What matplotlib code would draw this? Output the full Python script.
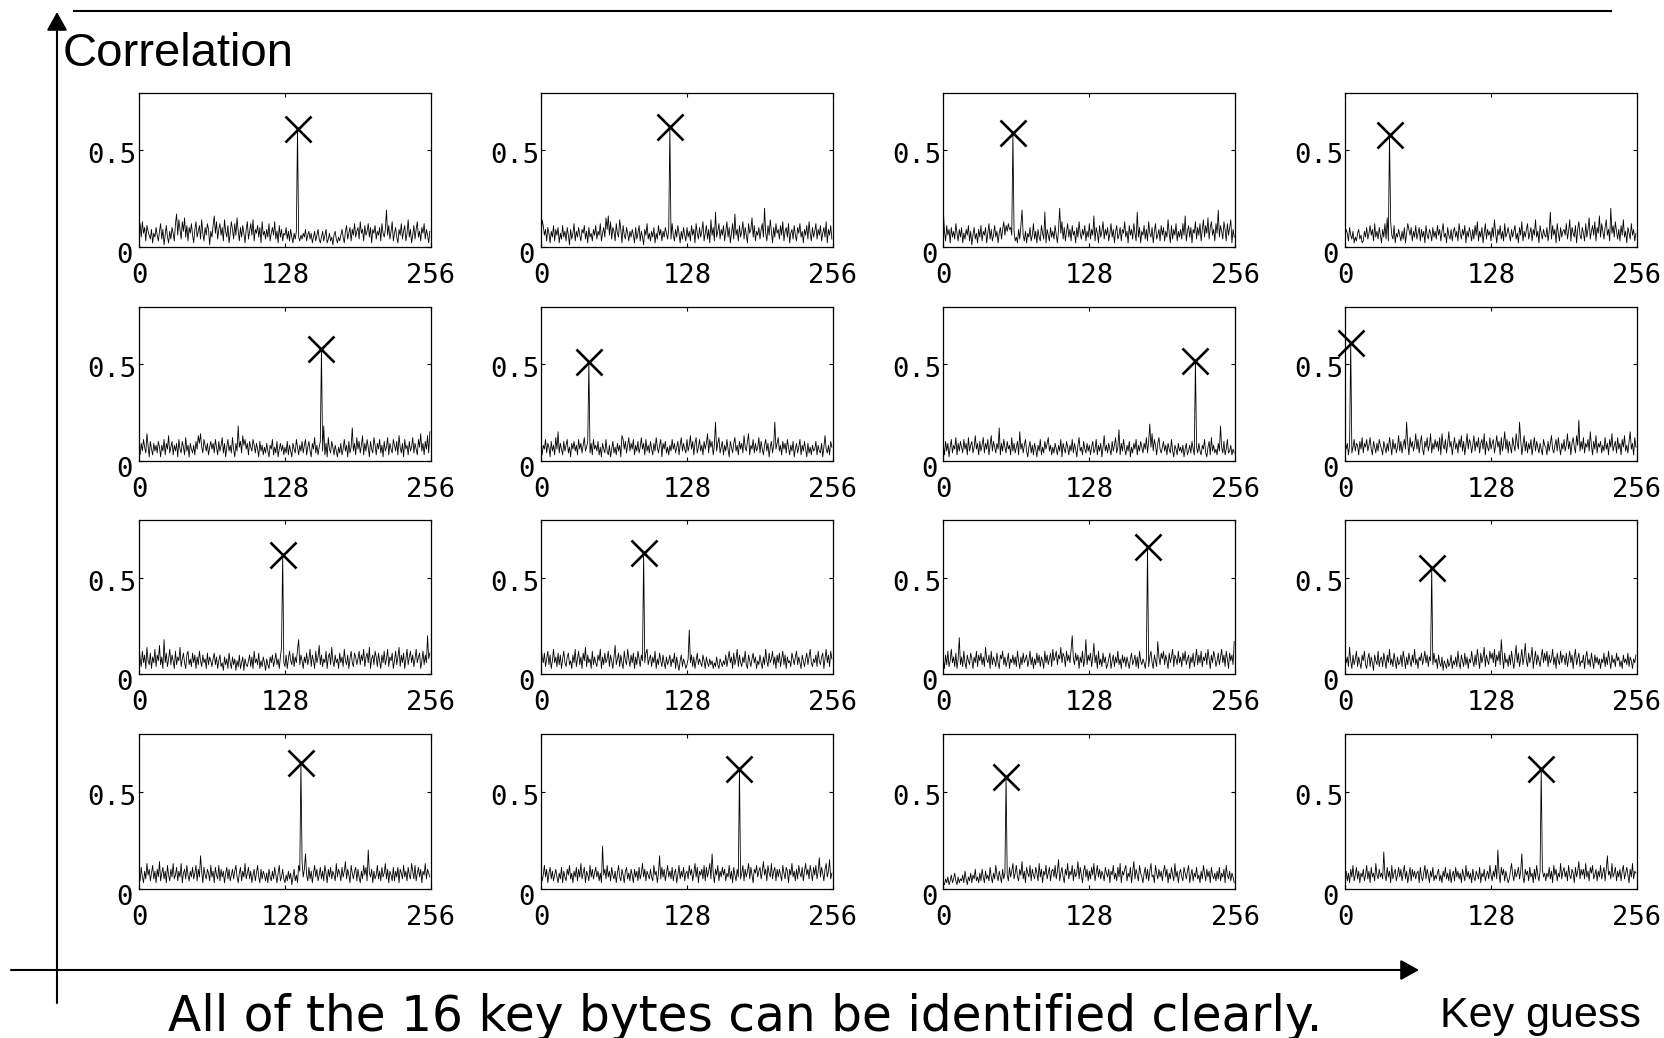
"""
16 key-byte correlation panels (CPA result): correlation vs key guess,
correct key marked with a cross.
"""
import numpy as np
import matplotlib
matplotlib.use("Agg")
import matplotlib.pyplot as plt
from matplotlib.transforms import ScaledTranslation

# correlation x100 for key guesses 0..255, one list per key byte
kb01 = [9, 12, 5, 13, 7, 10, 3, 11, 8, 6, 4, 9, 2, 7, 5, 10,
        6, 3, 8, 12, 4, 9, 1, 6, 11, 5, 2, 8, 4, 10, 7, 3,
        12, 17, 6, 14, 9, 4, 13, 8, 15, 5, 11, 3, 10, 7, 12, 6,
        2, 9, 13, 5, 8, 11, 4, 14, 7, 3, 10, 6, 12, 9, 1, 8,
        5, 11, 16, 7, 13, 4, 9, 12, 6, 10, 3, 14, 8, 5, 11, 2,
        7, 13, 9, 4, 12, 6, 15, 8, 3, 10, 5, 11, 7, 2, 9, 13,
        4, 8, 12, 6, 14, 3, 9, 7, 11, 5, 10, 2, 13, 6, 8, 4,
        9, 5, 12, 3, 7, 10, 6, 13, 4, 8, 2, 11, 5, 9, 3, 7,
        6, 10, 4, 8, 3, 9, 5, 2, 7, 4, 8, 61, 5, 3, 6, 4,
        7, 5, 9, 3, 6, 8, 4, 7, 2, 5, 8, 3, 6, 9, 4, 2,
        5, 8, 3, 6, 9, 2, 4, 7, 3, 5, 1, 6, 8, 4, 2, 5,
        3, 6, 9, 5, 2, 8, 11, 4, 7, 10, 3, 9, 6, 12, 5, 8,
        10, 4, 13, 7, 9, 3, 11, 6, 8, 12, 5, 10, 2, 9, 7, 11,
        4, 8, 6, 10, 3, 12, 7, 5, 9, 19, 6, 11, 4, 8, 13, 3,
        7, 10, 5, 2, 9, 6, 12, 4, 8, 11, 3, 7, 14, 5, 9, 2,
        6, 11, 4, 9, 13, 5, 8, 3, 10, 7, 12, 4, 9, 6, 2, 8]
kb02 = [4, 14, 11, 6, 9, 3, 10, 7, 2, 8, 5, 11, 3, 9, 6, 10,
        2, 7, 4, 11, 5, 8, 3, 10, 6, 1, 9, 4, 7, 12, 3, 8,
        5, 10, 6, 3, 9, 7, 11, 4, 8, 2, 10, 5, 7, 3, 9, 6,
        11, 4, 8, 6, 12, 3, 7, 10, 5, 15, 9, 16, 6, 13, 4, 10,
        8, 3, 12, 7, 5, 14, 9, 2, 11, 6, 4, 10, 7, 3, 8, 5,
        9, 6, 2, 10, 4, 7, 11, 3, 8, 5, 1, 9, 6, 12, 4, 7,
        3, 8, 5, 10, 2, 7, 4, 11, 6, 9, 3, 8, 5, 10, 7, 4,
        9, 62, 4, 12, 6, 3, 9, 5, 11, 7, 2, 8, 4, 10, 6, 3,
        10, 5, 8, 3, 11, 6, 9, 2, 12, 7, 4, 10, 5, 8, 13, 3,
        7, 11, 4, 9, 2, 14, 6, 10, 3, 18, 5, 8, 12, 4, 9, 6,
        11, 3, 8, 13, 5, 10, 2, 7, 12, 4, 17, 6, 9, 3, 11, 5,
        8, 13, 4, 10, 6, 2, 12, 7, 9, 15, 5, 11, 3, 8, 6, 10,
        4, 9, 12, 5, 20, 7, 3, 11, 6, 14, 8, 2, 10, 5, 12, 7,
        9, 4, 11, 6, 13, 3, 8, 10, 5, 12, 2, 7, 9, 4, 11, 6,
        3, 10, 7, 12, 5, 8, 2, 9, 6, 11, 4, 13, 7, 3, 10, 5,
        8, 12, 4, 9, 6, 11, 3, 7, 10, 5, 13, 2, 9, 6, 11, 4]
kb03 = [19, 8, 3, 11, 6, 9, 2, 10, 5, 8, 4, 12, 7, 3, 9, 5,
        10, 2, 7, 4, 9, 6, 11, 3, 8, 1, 6, 10, 4, 7, 2, 9,
        5, 11, 3, 8, 6, 10, 2, 7, 12, 4, 9, 3, 6, 11, 5, 8,
        2, 7, 10, 4, 9, 13, 6, 11, 8, 12, 9, 10, 6, 59, 8, 3,
        5, 2, 9, 4, 11, 19, 6, 3, 8, 2, 7, 5, 10, 3, 6, 12,
        4, 8, 2, 9, 5, 3, 11, 7, 4, 18, 2, 9, 6, 3, 10, 5,
        8, 4, 11, 6, 2, 9, 20, 7, 13, 4, 10, 3, 8, 12, 5, 9,
        3, 11, 6, 8, 2, 10, 5, 13, 7, 4, 9, 6, 11, 3, 8, 5,
        12, 4, 9, 6, 16, 3, 10, 7, 2, 11, 5, 8, 13, 4, 9, 6,
        10, 3, 7, 12, 5, 9, 2, 8, 11, 4, 6, 10, 3, 9, 7, 13,
        5, 8, 2, 11, 6, 9, 4, 12, 7, 3, 18, 5, 10, 2, 8, 6,
        11, 4, 9, 3, 13, 7, 5, 10, 2, 8, 12, 4, 6, 9, 3, 11,
        6, 10, 3, 8, 5, 14, 7, 2, 11, 4, 9, 6, 12, 3, 8, 5,
        9, 4, 12, 6, 16, 3, 8, 11, 5, 10, 2, 9, 7, 13, 4, 10,
        6, 12, 3, 9, 14, 5, 11, 7, 15, 4, 10, 13, 6, 9, 3, 12,
        7, 19, 5, 11, 8, 4, 13, 9, 3, 12, 6, 10, 14, 2, 9, 5]
kb04 = [5, 9, 7, 3, 10, 6, 4, 8, 2, 5, 3, 7, 9, 4, 6, 2,
        3, 8, 5, 10, 4, 7, 11, 6, 9, 3, 12, 5, 8, 4, 10, 6,
        2, 9, 5, 12, 4, 15, 3, 58, 13, 6, 4, 11, 2, 7, 5, 9,
        6, 3, 8, 4, 10, 2, 7, 12, 9, 6, 10, 3, 8, 5, 11, 4,
        7, 10, 3, 9, 5, 8, 2, 11, 6, 4, 9, 7, 3, 10, 5, 8,
        4, 11, 6, 9, 3, 8, 12, 5, 7, 2, 10, 6, 4, 9, 3, 8,
        10, 5, 8, 3, 12, 7, 4, 9, 6, 11, 2, 8, 5, 10, 7, 3,
        9, 4, 11, 6, 13, 3, 8, 5, 10, 2, 7, 12, 4, 9, 6, 8,
        3, 10, 5, 14, 7, 2, 9, 6, 11, 4, 8, 3, 12, 5, 7, 10,
        6, 3, 9, 5, 8, 11, 4, 7, 2, 10, 6, 13, 3, 8, 5, 9,
        12, 4, 7, 10, 3, 9, 6, 14, 5, 8, 2, 11, 7, 4, 9, 6,
        5, 10, 3, 8, 18, 4, 11, 6, 9, 2, 12, 7, 3, 10, 5, 8,
        9, 6, 12, 4, 8, 14, 3, 10, 7, 5, 11, 2, 9, 13, 6, 4,
        10, 7, 3, 12, 5, 9, 15, 4, 8, 11, 6, 13, 3, 10, 7, 16,
        5, 12, 8, 4, 10, 14, 6, 9, 3, 20, 7, 11, 5, 13, 8, 4,
        9, 3, 11, 6, 14, 5, 8, 2, 10, 7, 4, 12, 6, 9, 3, 7]
kb05 = [6, 3, 9, 5, 11, 7, 4, 14, 8, 2, 10, 6, 3, 9, 5, 8,
        4, 10, 7, 2, 8, 5, 11, 3, 9, 6, 13, 4, 7, 10, 3, 8,
        5, 9, 2, 11, 6, 4, 10, 7, 3, 12, 5, 8, 2, 9, 6, 4,
        8, 3, 10, 6, 13, 9, 14, 7, 4, 11, 8, 5, 9, 3, 7, 10,
        6, 9, 4, 11, 7, 3, 10, 5, 8, 12, 4, 9, 2, 7, 11, 5,
        8, 4, 12, 6, 2, 9, 5, 18, 7, 10, 4, 13, 8, 11, 6, 9,
        3, 10, 7, 5, 11, 8, 4, 9, 6, 2, 10, 5, 8, 3, 7, 4,
        9, 5, 2, 8, 6, 11, 3, 7, 4, 10, 2, 6, 9, 5, 8, 3,
        7, 4, 10, 3, 8, 5, 2, 9, 6, 4, 11, 7, 3, 8, 5, 10,
        4, 8, 11, 3, 7, 10, 5, 2, 9, 6, 12, 4, 8, 3, 7, 10,
        58, 5, 18, 3, 9, 2, 12, 6, 4, 10, 7, 3, 8, 5, 2, 7,
        4, 9, 3, 6, 11, 5, 8, 2, 10, 4, 7, 17, 5, 9, 3, 12,
        6, 10, 4, 8, 13, 3, 9, 5, 11, 7, 2, 10, 6, 4, 12, 8,
        3, 9, 6, 11, 4, 8, 2, 10, 5, 7, 12, 3, 9, 6, 4, 11,
        8, 5, 10, 3, 13, 7, 4, 9, 2, 11, 6, 8, 3, 10, 5, 7,
        12, 4, 9, 6, 3, 11, 7, 14, 5, 9, 3, 10, 6, 13, 4, 15]
kb06 = [10, 3, 8, 6, 11, 4, 9, 7, 2, 10, 5, 8, 3, 12, 6, 15,
        4, 9, 6, 3, 10, 5, 8, 11, 4, 7, 2, 9, 6, 10, 5, 8,
        3, 11, 6, 9, 4, 8, 12, 5, 7, 10, 51, 4, 9, 3, 11, 6,
        8, 5, 10, 3, 7, 2, 9, 6, 4, 11, 5, 3, 8, 2, 6, 10,
        4, 7, 3, 9, 5, 8, 2, 13, 11, 6, 10, 4, 8, 12, 5, 9,
        6, 11, 3, 8, 5, 10, 4, 7, 12, 6, 9, 3, 11, 5, 8, 4,
        10, 6, 3, 9, 5, 12, 7, 4, 8, 11, 2, 9, 6, 10, 4, 7,
        3, 8, 5, 11, 6, 9, 4, 7, 10, 3, 8, 12, 5, 9, 6, 4,
        11, 5, 8, 13, 6, 10, 3, 9, 12, 4, 7, 11, 5, 8, 3, 10,
        6, 9, 14, 4, 11, 7, 10, 3, 8, 20, 5, 9, 12, 4, 7, 10,
        3, 8, 5, 11, 6, 2, 10, 7, 4, 9, 12, 5, 8, 3, 10, 6,
        9, 4, 13, 7, 5, 10, 14, 3, 8, 6, 11, 4, 9, 5, 7, 12,
        4, 10, 6, 3, 8, 11, 5, 9, 2, 7, 10, 4, 8, 20, 6, 9,
        12, 5, 8, 3, 10, 6, 9, 4, 11, 7, 3, 8, 5, 10, 2, 6,
        9, 4, 7, 11, 3, 8, 5, 10, 6, 2, 9, 4, 7, 3, 8, 5,
        6, 10, 3, 8, 5, 4, 9, 2, 7, 13, 6, 4, 8, 3, 10, 7]
kb07 = [8, 3, 10, 5, 9, 2, 7, 11, 4, 8, 6, 12, 3, 9, 5, 10,
        7, 4, 11, 6, 9, 3, 12, 5, 8, 10, 4, 7, 13, 6, 9, 3,
        10, 5, 8, 12, 4, 9, 6, 11, 3, 8, 13, 5, 10, 7, 4, 9,
        6, 17, 3, 9, 5, 11, 7, 4, 10, 6, 8, 3, 12, 5, 9, 4,
        7, 10, 3, 15, 6, 9, 4, 8, 11, 5, 2, 7, 10, 4, 8, 3,
        9, 6, 2, 8, 5, 11, 3, 7, 4, 10, 6, 9, 12, 5, 8, 3,
        7, 4, 9, 6, 3, 8, 5, 11, 2, 9, 6, 4, 10, 7, 3, 8,
        5, 11, 4, 9, 6, 2, 8, 12, 5, 7, 3, 10, 6, 4, 9, 5,
        8, 3, 7, 10, 4, 6, 11, 3, 8, 5, 9, 2, 7, 13, 5, 8,
        4, 9, 6, 3, 10, 5, 8, 12, 4, 7, 16, 3, 9, 5, 11, 6,
        3, 8, 5, 10, 2, 7, 4, 9, 6, 11, 3, 8, 5, 10, 7, 4,
        9, 6, 12, 4, 10, 19, 7, 14, 5, 11, 8, 3, 9, 12, 6, 4,
        7, 10, 5, 8, 3, 9, 6, 4, 11, 5, 2, 8, 6, 3, 9, 5,
        7, 4, 8, 2, 6, 9, 3, 5, 8, 4, 10, 6, 3, 52, 7, 4,
        9, 5, 3, 8, 6, 11, 4, 2, 7, 10, 3, 12, 5, 8, 4, 6,
        3, 9, 5, 18, 7, 4, 10, 3, 6, 11, 4, 5, 8, 3, 6, 4]
kb08 = [10, 6, 9, 3, 8, 61, 4, 7, 11, 5, 9, 8, 3, 10, 6, 12,
        4, 9, 7, 11, 5, 8, 12, 6, 3, 10, 7, 4, 9, 5, 11, 8,
        6, 3, 10, 7, 4, 9, 5, 12, 8, 3, 11, 6, 9, 4, 7, 13,
        5, 10, 4, 8, 11, 6, 20, 9, 3, 12, 7, 10, 5, 8, 14, 6,
        11, 4, 9, 13, 6, 3, 10, 7, 12, 5, 8, 14, 4, 9, 6, 11,
        7, 10, 5, 12, 3, 14, 8, 6, 11, 4, 9, 15, 7, 10, 3, 8,
        12, 6, 9, 4, 11, 7, 13, 5, 10, 3, 8, 14, 6, 11, 9, 4,
        8, 13, 5, 10, 7, 12, 4, 9, 11, 6, 14, 3, 10, 7, 5, 12,
        6, 9, 11, 4, 8, 13, 7, 10, 3, 12, 5, 9, 15, 6, 11, 4,
        10, 7, 4, 12, 8, 5, 14, 9, 6, 20, 11, 3, 8, 13, 5, 10,
        4, 9, 6, 11, 3, 8, 12, 5, 10, 7, 4, 9, 6, 3, 11, 8,
        7, 3, 10, 5, 9, 13, 6, 4, 8, 11, 5, 12, 7, 3, 9, 6,
        11, 5, 8, 14, 6, 10, 3, 9, 12, 7, 4, 13, 8, 21, 5, 10,
        6, 12, 4, 9, 7, 11, 5, 15, 8, 3, 10, 6, 13, 4, 9, 7,
        10, 4, 8, 5, 12, 6, 9, 3, 11, 7, 14, 5, 8, 10, 4, 12,
        6, 9, 3, 11, 7, 13, 5, 8, 4, 10, 15, 6, 9, 3, 12, 7]
kb09 = [16, 8, 4, 12, 6, 10, 3, 14, 7, 5, 11, 3, 9, 6, 13, 4,
        10, 7, 15, 5, 9, 3, 18, 6, 11, 4, 8, 13, 5, 10, 7, 3,
        12, 5, 9, 7, 14, 4, 8, 11, 6, 3, 10, 12, 5, 8, 4, 11,
        6, 10, 3, 9, 5, 12, 7, 4, 10, 6, 8, 3, 11, 5, 9, 7,
        4, 8, 11, 5, 9, 3, 7, 10, 4, 6, 2, 9, 5, 8, 3, 11,
        6, 3, 9, 5, 8, 2, 7, 4, 10, 3, 6, 9, 2, 8, 5, 4,
        7, 10, 4, 9, 3, 12, 6, 8, 5, 11, 3, 7, 4, 9, 6, 2,
        8, 5, 3, 9, 6, 10, 4, 7, 11, 5, 8, 3, 9, 14, 62, 6,
        4, 10, 3, 8, 12, 7, 5, 11, 4, 9, 6, 13, 18, 5, 10, 7,
        3, 9, 6, 11, 5, 8, 13, 4, 10, 7, 3, 12, 6, 9, 15, 5,
        10, 4, 8, 6, 12, 3, 9, 11, 5, 14, 7, 4, 10, 6, 8, 3,
        11, 6, 9, 4, 13, 7, 5, 10, 3, 8, 12, 6, 4, 11, 9, 5,
        8, 12, 5, 10, 7, 13, 4, 9, 11, 6, 14, 3, 8, 10, 5, 12,
        9, 4, 11, 7, 3, 10, 6, 12, 5, 8, 13, 4, 9, 7, 11, 3,
        7, 12, 5, 9, 14, 4, 10, 6, 11, 3, 8, 13, 5, 9, 12, 6,
        10, 4, 8, 13, 6, 9, 11, 3, 7, 12, 5, 10, 6, 20, 8, 11]
kb10 = [17, 9, 6, 11, 4, 8, 12, 5, 10, 3, 7, 13, 6, 9, 4, 11,
        5, 10, 3, 8, 12, 6, 4, 9, 11, 5, 7, 3, 10, 6, 13, 4,
        8, 12, 5, 9, 3, 11, 7, 14, 4, 10, 6, 8, 3, 12, 5, 9,
        6, 4, 10, 7, 13, 3, 9, 5, 11, 6, 8, 12, 4, 10, 7, 3,
        9, 15, 5, 8, 11, 4, 10, 6, 3, 12, 7, 5, 13, 8, 4, 10,
        6, 11, 3, 9, 5, 12, 8, 4, 10, 7, 63, 6, 11, 13, 5, 8,
        10, 4, 9, 6, 12, 3, 8, 5, 11, 7, 4, 10, 6, 3, 9, 5,
        7, 10, 4, 8, 6, 11, 3, 9, 5, 2, 7, 10, 4, 8, 6, 3,
        5, 8, 23, 6, 10, 4, 9, 3, 7, 11, 5, 8, 6, 4, 10, 7,
        3, 9, 6, 4, 8, 5, 7, 3, 6, 4, 9, 5, 3, 8, 6, 4,
        7, 5, 10, 4, 8, 12, 6, 9, 3, 11, 5, 8, 13, 4, 10, 6,
        4, 9, 6, 12, 5, 3, 10, 7, 4, 8, 11, 6, 9, 3, 7, 5,
        10, 6, 3, 9, 5, 13, 7, 4, 11, 6, 8, 12, 5, 9, 3, 10,
        6, 11, 4, 8, 12, 5, 10, 3, 9, 6, 7, 4, 11, 8, 5, 9,
        12, 5, 9, 6, 3, 10, 7, 4, 8, 11, 5, 9, 13, 6, 4, 8,
        6, 10, 4, 12, 7, 5, 9, 11, 3, 8, 13, 6, 10, 4, 12, 8]
kb11 = [8, 3, 10, 5, 12, 4, 7, 13, 6, 9, 4, 11, 3, 8, 19, 5,
        9, 4, 12, 6, 3, 10, 7, 5, 11, 8, 3, 9, 6, 12, 4, 10,
        7, 11, 5, 9, 4, 14, 8, 6, 10, 3, 12, 5, 9, 7, 4, 11,
        6, 3, 10, 8, 12, 5, 9, 4, 7, 11, 3, 8, 6, 10, 5, 9,
        4, 12, 7, 3, 9, 5, 11, 6, 8, 10, 4, 7, 12, 5, 9, 3,
        8, 5, 11, 6, 10, 4, 9, 7, 3, 12, 6, 10, 5, 8, 11, 4,
        13, 7, 9, 12, 5, 10, 8, 14, 6, 11, 9, 4, 12, 7, 10, 6,
        13, 20, 8, 5, 11, 7, 10, 3, 9, 6, 12, 4, 8, 18, 5, 10,
        7, 11, 4, 9, 16, 6, 10, 3, 12, 5, 8, 4, 11, 6, 9, 3,
        5, 8, 11, 3, 7, 10, 4, 9, 6, 12, 5, 8, 3, 10, 6, 9,
        4, 9, 6, 3, 8, 11, 5, 7, 10, 4, 9, 3, 12, 7, 5, 8,
        6, 3, 8, 66, 4, 9, 12, 6, 3, 10, 7, 4, 17, 9, 5, 11,
        8, 12, 5, 10, 7, 3, 11, 6, 9, 13, 4, 10, 8, 5, 12, 6,
        9, 4, 11, 7, 12, 5, 8, 10, 3, 9, 6, 11, 4, 8, 13, 5,
        10, 6, 12, 4, 9, 7, 11, 5, 13, 8, 3, 10, 6, 12, 9, 4,
        7, 11, 5, 9, 13, 6, 10, 4, 12, 8, 3, 11, 7, 10, 5, 17]
kb12 = [11, 6, 9, 4, 14, 7, 3, 10, 5, 8, 12, 4, 9, 6, 3, 10,
        7, 12, 5, 3, 8, 11, 4, 9, 6, 2, 10, 7, 5, 12, 4, 8,
        9, 4, 11, 7, 3, 10, 6, 13, 5, 8, 4, 11, 7, 3, 9, 5,
        6, 10, 4, 12, 8, 3, 9, 5, 11, 7, 4, 10, 6, 13, 5, 8,
        3, 9, 7, 11, 5, 8, 12, 6, 10, 4, 9, 7, 55, 5, 11, 6,
        8, 3, 10, 6, 4, 9, 2, 7, 5, 3, 8, 4, 6, 10, 3, 7,
        5, 9, 4, 12, 6, 3, 10, 7, 4, 11, 5, 9, 3, 8, 6, 12,
        7, 4, 10, 5, 13, 8, 3, 11, 6, 9, 14, 4, 10, 7, 5, 12,
        8, 11, 6, 13, 4, 10, 7, 12, 5, 18, 9, 3, 11, 6, 8, 4,
        10, 5, 12, 7, 3, 9, 15, 6, 11, 4, 8, 13, 5, 9, 16, 7,
        4, 11, 6, 9, 14, 3, 8, 12, 5, 10, 7, 4, 9, 13, 6, 11,
        7, 12, 4, 10, 6, 8, 13, 5, 9, 3, 11, 7, 5, 12, 6, 10,
        9, 5, 11, 4, 8, 12, 6, 10, 3, 9, 13, 5, 8, 11, 4, 7,
        6, 10, 3, 9, 12, 5, 8, 4, 11, 7, 3, 10, 6, 9, 5, 8,
        3, 8, 6, 11, 4, 9, 5, 12, 7, 3, 10, 6, 8, 4, 11, 7,
        9, 4, 7, 3, 10, 6, 8, 5, 11, 4, 9, 7, 3, 8, 6, 10]
kb13 = [8, 4, 11, 6, 3, 9, 5, 13, 7, 10, 4, 8, 12, 5, 9, 3,
        10, 6, 14, 4, 8, 11, 5, 9, 3, 12, 7, 4, 10, 6, 13, 5,
        7, 11, 4, 9, 6, 13, 3, 8, 10, 5, 12, 7, 4, 9, 6, 11,
        5, 8, 12, 4, 10, 6, 17, 9, 3, 11, 7, 5, 10, 8, 4, 12,
        6, 9, 3, 11, 7, 5, 12, 4, 10, 6, 9, 3, 8, 11, 5, 10,
        4, 7, 10, 5, 9, 12, 6, 3, 8, 11, 4, 9, 6, 13, 5, 8,
        11, 5, 9, 3, 7, 10, 4, 8, 12, 6, 3, 10, 5, 9, 7, 4,
        8, 3, 10, 6, 4, 9, 5, 11, 7, 3, 8, 12, 4, 6, 10, 5,
        3, 7, 4, 9, 5, 8, 2, 6, 10, 4, 7, 3, 12, 9, 65, 14,
        6, 10, 18, 7, 4, 11, 5, 9, 3, 8, 12, 6, 10, 4, 7, 11,
        5, 9, 4, 12, 8, 3, 10, 6, 11, 5, 9, 7, 4, 13, 6, 10,
        8, 4, 11, 6, 9, 14, 5, 10, 7, 3, 12, 8, 5, 9, 11, 4,
        10, 6, 3, 9, 5, 12, 7, 11, 4, 20, 8, 6, 10, 3, 9, 5,
        7, 12, 5, 9, 4, 11, 6, 8, 13, 5, 10, 3, 9, 7, 4, 11,
        4, 9, 6, 11, 3, 10, 8, 5, 12, 6, 9, 4, 11, 7, 5, 13,
        9, 5, 12, 4, 8, 11, 6, 10, 3, 9, 7, 13, 5, 10, 8, 6]
kb14 = [9, 4, 7, 12, 6, 10, 3, 8, 11, 5, 9, 4, 7, 10, 6, 3,
        8, 5, 11, 3, 9, 6, 4, 10, 7, 12, 5, 8, 3, 9, 6, 11,
        4, 10, 6, 13, 5, 8, 11, 3, 9, 7, 4, 12, 6, 10, 5, 8,
        11, 6, 9, 4, 8, 3, 22, 7, 10, 5, 12, 6, 9, 4, 11, 7,
        5, 9, 3, 8, 12, 6, 4, 10, 7, 3, 9, 11, 5, 8, 4, 10,
        7, 3, 10, 6, 9, 4, 11, 5, 8, 13, 6, 10, 4, 9, 7, 5,
        10, 6, 4, 12, 7, 9, 3, 8, 17, 5, 11, 6, 10, 4, 8, 12,
        6, 9, 5, 11, 4, 8, 10, 3, 7, 12, 5, 9, 6, 11, 4, 8,
        9, 5, 12, 7, 10, 4, 8, 13, 6, 11, 3, 9, 7, 10, 5, 12,
        4, 11, 6, 9, 13, 5, 18, 8, 3, 10, 7, 12, 4, 9, 6, 11,
        7, 10, 4, 8, 6, 12, 5, 9, 3, 11, 7, 4, 10, 6, 62, 5,
        8, 12, 4, 10, 6, 9, 13, 5, 11, 7, 3, 10, 8, 12, 6, 9,
        11, 5, 9, 14, 7, 10, 4, 12, 8, 6, 13, 5, 9, 11, 4, 10,
        6, 10, 7, 4, 12, 8, 5, 11, 9, 3, 10, 7, 13, 6, 9, 4,
        10, 5, 12, 8, 6, 11, 4, 9, 13, 7, 10, 5, 12, 8, 4, 11,
        7, 12, 5, 9, 16, 6, 11, 8, 4, 10, 13, 6, 9, 15, 5, 8]
kb15 = [3, 2, 5, 3, 6, 2, 4, 7, 3, 5, 8, 4, 2, 6, 3, 5,
        4, 7, 3, 9, 5, 2, 6, 4, 8, 3, 7, 5, 10, 4, 6, 3,
        8, 4, 10, 6, 3, 9, 5, 7, 4, 11, 6, 3, 8, 5, 12, 7,
        4, 9, 6, 3, 10, 5, 8, 58, 7, 4, 11, 6, 9, 13, 5, 8,
        12, 6, 4, 10, 7, 14, 5, 9, 3, 11, 8, 6, 12, 4, 10, 7,
        5, 11, 8, 4, 13, 6, 10, 3, 9, 7, 12, 5, 8, 11, 4, 9,
        10, 6, 12, 5, 9, 15, 4, 8, 11, 6, 3, 10, 7, 13, 5, 9,
        7, 12, 4, 10, 6, 8, 14, 5, 11, 7, 3, 9, 12, 6, 10, 4,
        9, 5, 11, 7, 13, 4, 8, 12, 6, 10, 5, 9, 7, 4, 11, 8,
        6, 10, 3, 9, 7, 12, 5, 8, 4, 11, 6, 13, 3, 9, 7, 10,
        12, 4, 8, 6, 11, 3, 9, 14, 5, 10, 7, 4, 12, 8, 6, 3,
        8, 11, 5, 10, 4, 9, 13, 6, 7, 3, 12, 8, 5, 10, 6, 9,
        4, 9, 12, 6, 10, 3, 8, 5, 11, 7, 4, 13, 6, 9, 3, 8,
        10, 6, 4, 11, 8, 5, 9, 12, 3, 7, 10, 4, 8, 6, 11, 5,
        7, 3, 9, 5, 12, 8, 4, 10, 6, 9, 3, 11, 7, 5, 8, 4,
        9, 5, 11, 4, 8, 6, 10, 3, 12, 7, 5, 9, 4, 8, 6, 3]
kb16 = [5, 9, 4, 8, 3, 10, 6, 12, 4, 7, 11, 5, 9, 3, 8, 6,
        10, 4, 7, 12, 5, 9, 3, 11, 6, 8, 4, 13, 7, 5, 10, 6,
        8, 5, 19, 7, 4, 11, 6, 9, 3, 12, 5, 8, 10, 4, 7, 11,
        6, 10, 4, 8, 12, 5, 9, 3, 7, 11, 4, 10, 6, 9, 5, 8,
        9, 3, 11, 6, 4, 8, 12, 5, 10, 7, 3, 9, 6, 11, 4, 7,
        5, 8, 10, 4, 7, 3, 9, 6, 11, 5, 8, 4, 10, 3, 7, 9,
        4, 11, 6, 9, 5, 8, 3, 10, 7, 4, 12, 6, 9, 5, 8, 3,
        10, 6, 4, 9, 7, 5, 11, 3, 8, 6, 10, 4, 7, 9, 5, 12,
        7, 4, 9, 6, 12, 5, 20, 8, 3, 11, 7, 10, 4, 9, 6, 3,
        5, 9, 13, 7, 4, 10, 6, 8, 11, 5, 9, 18, 6, 3, 10, 7,
        9, 4, 11, 6, 8, 3, 10, 5, 12, 7, 4, 9, 62, 10, 6, 8,
        4, 8, 6, 11, 5, 9, 3, 12, 7, 10, 4, 8, 6, 13, 5, 9,
        11, 6, 9, 4, 12, 7, 5, 10, 8, 3, 11, 6, 9, 14, 5, 10,
        7, 10, 5, 13, 6, 9, 4, 11, 8, 12, 5, 7, 10, 4, 9, 6,
        12, 5, 8, 11, 4, 10, 17, 7, 9, 5, 13, 6, 8, 11, 4, 9,
        6, 10, 4, 9, 12, 5, 8, 11, 7, 3, 10, 6, 13, 5, 9, 8]

key_bytes = [kb01, kb02, kb03, kb04, kb05, kb06, kb07, kb08,
             kb09, kb10, kb11, kb12, kb13, kb14, kb15, kb16]
xticks = [0, 128, 256]
yticks = [0, 0.5]
ytick_labels = ["0", "0.5"]

plt.rcParams["font.family"] = "DejaVu Sans Mono"

fig = plt.figure(figsize=(16.64, 10.38), dpi=100)

# panel grid (figure fractions)
lefts = [0.0835, 0.3251, 0.5669, 0.8083]
bottoms = [0.7623, 0.5562, 0.3504, 0.1440]
pw, ph = 0.1755, 0.1484

for i, vals in enumerate(key_bytes):
    r, c = divmod(i, 4)
    ax = fig.add_axes([lefts[c], bottoms[r], pw, ph])
    y = np.array(vals) / 100.0
    x = np.arange(len(y))
    ax.plot(x, y, color="black", lw=0.6)
    k = int(np.argmax(y))
    ax.plot(x[k], y[k], "x", color="black", ms=19, mew=1.9, clip_on=False)
    ax.set_xlim(0, 256)
    ax.set_ylim(0, 0.8)
    ax.set_xticks(xticks)
    ax.set_yticks(yticks)
    ax.set_yticklabels(ytick_labels)
    ax.tick_params(direction="in", length=3, width=0.8, top=True, right=True,
                   labelsize=19.5)
    ax.tick_params(axis="x", pad=11.5)
    ax.tick_params(axis="y", pad=1.5)
    for sp in ax.spines.values():
        sp.set_linewidth(0.9)
    # matlab-style placement of the y tick labels
    for j, t in enumerate(ax.yaxis.get_major_ticks()):
        dx, dy = (-4, -6) if j == 0 else (0, -3)
        t.label1.set_transform(t.label1.get_transform() +
                               ScaledTranslation(dx / 100, dy / 100, fig.dpi_scale_trans))

# frame decorations in pixel coordinates
ov = fig.add_axes([0, 0, 1, 1])
ov.set_xlim(0, 1664)
ov.set_ylim(1038, 0)
ov.axis("off")
ov.plot([74, 1611], [11, 11], color="black", lw=1.5)
arrow = dict(arrowstyle="-|>,head_length=0.45,head_width=0.25", color="black",
             lw=1.5, mutation_scale=25, shrinkA=0, shrinkB=0)
ov.annotate("", xy=(57, 12), xytext=(57, 1003), arrowprops=arrow)
ov.annotate("", xy=(1419, 970), xytext=(11, 970), arrowprops=arrow)
ov.text(63, 54, "Correlation", fontsize=34, family="Liberation Sans",
        ha="left", va="center")
ov.text(1440, 1027, "Key guess", fontsize=31, family="Liberation Sans",
        ha="left", va="baseline")
ov.text(745, 1031, "All of the 16 key bytes can be identified clearly.",
        fontsize=35, family="DejaVu Sans", ha="center", va="baseline")

fig.savefig("out.png", dpi=100)
